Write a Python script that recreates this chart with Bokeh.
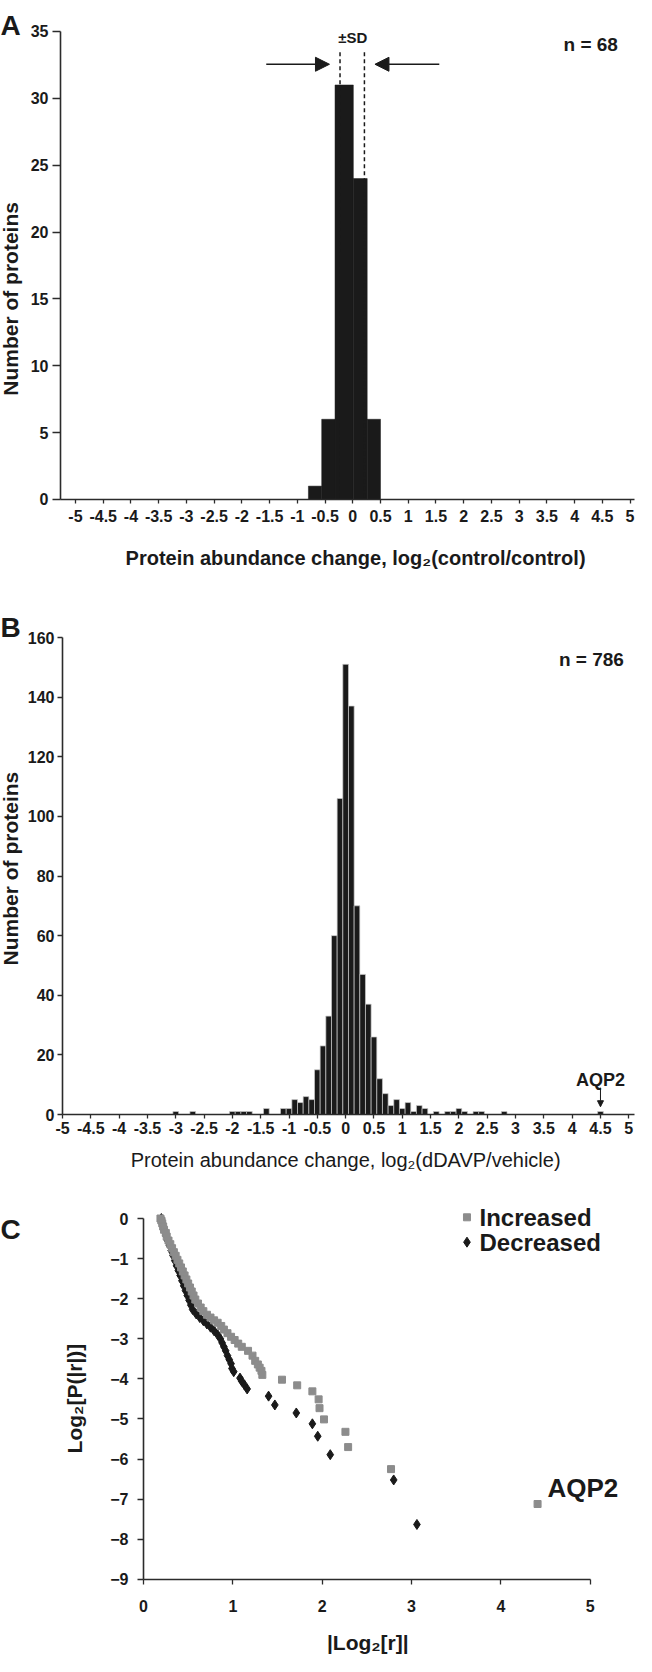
from bokeh.plotting import figure
from bokeh.models import FixedTicker, Label, Arrow, NormalHead, Range1d
from bokeh.layouts import column
from bokeh.embed import file_html
from bokeh.resources import INLINE

FONT = "Liberation Sans"
INK = "#1a1a1a"
W = 636

# ---------------- data ----------------
hist_ticks = [-5, -4.5, -4, -3.5, -3, -2.5, -2, -1.5, -1, -0.5, 0,
              0.5, 1, 1.5, 2, 2.5, 3, 3.5, 4, 4.5, 5]
hist_tick_labels = ["-5", "-4.5", "-4", "-3.5", "-3", "-2.5", "-2", "-1.5", "-1", "-0.5", "0",
                    "0.5", "1", "1.5", "2", "2.5", "3", "3.5", "4", "4.5", "5"]

# Panel A: control/control histogram
a_bin_left = [-0.80, -0.56, -0.32, 0.01, 0.26]
a_bin_right = [-0.56, -0.32, 0.01, 0.26, 0.50]
a_counts = [1, 6, 31, 24, 6]
a_sd = [-0.23, 0.21]
a_sd_top = 33.45
a_yticks = [0, 5, 10, 15, 20, 25, 30, 35]

# Panel B: dDAVP/vehicle histogram (bin centres, width 0.1)
b_centers = [-3.0, -2.7, -2.0, -1.9, -1.8, -1.7, -1.4, -1.1, -1.0,
             -0.9, -0.8, -0.7, -0.6, -0.5, -0.4, -0.3, -0.2, -0.1, 0.0,
             0.1, 0.2, 0.3, 0.4, 0.5, 0.6, 0.7, 0.8, 0.9, 1.0, 1.1, 1.2,
             1.3, 1.4, 1.6, 1.8, 1.9, 2.0, 2.1, 2.3, 2.4, 2.8, 4.5]
b_counts = [1, 1, 1, 1, 1, 1, 2, 2, 2,
            5, 4, 6, 5, 15, 23, 33, 60, 106, 151,
            137, 70, 47, 37, 26, 12, 7, 3, 5, 2, 4, 1,
            3, 2, 1, 1, 1, 2, 1, 1, 1, 1, 1]
b_yticks = [0, 20, 40, 60, 80, 100, 120, 140, 160]

# Panel C: cumulative distributions
inc_x = [0.19, 0.20, 0.21, 0.22, 0.23, 0.25, 0.26, 0.28, 0.30, 0.32, 0.34, 0.36, 0.38, 0.40,
         0.42, 0.44, 0.46, 0.48, 0.50, 0.52, 0.54, 0.56, 0.58, 0.61, 0.64, 0.67, 0.71, 0.75,
         0.79, 0.83, 0.87, 0.90, 0.94, 0.98, 1.02, 1.06, 1.10, 1.17, 1.22, 1.25, 1.28, 1.30,
         1.32, 1.33, 1.55, 1.72, 1.89, 1.96, 1.97, 2.02, 2.26, 2.29, 2.77, 4.41]
inc_y = [0.00, -0.05, -0.12, -0.20, -0.28, -0.36, -0.45, -0.55, -0.64, -0.74, -0.84, -0.93,
         -1.03, -1.12, -1.22, -1.32, -1.42, -1.52, -1.62, -1.72, -1.82, -1.92, -2.02, -2.12,
         -2.22, -2.31, -2.40, -2.47, -2.54, -2.60, -2.68, -2.77, -2.86, -2.95, -3.03, -3.12,
         -3.20, -3.30, -3.42, -3.55, -3.64, -3.72, -3.80, -3.90, -4.02, -4.16, -4.31, -4.51,
         -4.73, -5.01, -5.32, -5.70, -6.25, -7.12]
dec_x = [0.20, 0.21, 0.22, 0.23, 0.25, 0.27, 0.29, 0.31, 0.33, 0.35, 0.37, 0.39, 0.41, 0.43,
         0.45, 0.47, 0.49, 0.51, 0.53, 0.55, 0.59, 0.63, 0.67, 0.71, 0.75, 0.79, 0.83, 0.86,
         0.88, 0.90, 0.92, 0.94, 0.96, 0.98, 0.99, 1.01, 1.08, 1.10, 1.13, 1.16, 1.40, 1.47,
         1.71, 1.89, 1.95, 2.09, 2.80, 3.06]
dec_y = [0.00, -0.10, -0.20, -0.30, -0.42, -0.55, -0.67, -0.80, -0.92, -1.05, -1.18, -1.30,
         -1.42, -1.55, -1.68, -1.80, -1.92, -2.04, -2.16, -2.27, -2.38, -2.47, -2.55, -2.63,
         -2.71, -2.80, -2.90, -3.00, -3.10, -3.20, -3.30, -3.42, -3.52, -3.62, -3.74, -3.82,
         -3.98, -4.06, -4.15, -4.25, -4.43, -4.65, -4.85, -5.12, -5.43, -5.89, -6.52, -7.63]
c_xticks = [0, 1, 2, 3, 4, 5]
c_yticks = [0, -1, -2, -3, -4, -5, -6, -7, -8, -9]


# ---------------- helpers ----------------
def make_fig(height, xr, yr):
    p = figure(width=W, height=height, x_range=Range1d(*xr), y_range=Range1d(*yr),
               output_backend="svg", toolbar_location=None,
               min_border_left=0, min_border_right=0, min_border_top=0, min_border_bottom=0)
    p.title.visible = False
    p.outline_line_color = None
    p.xgrid.visible = False
    p.ygrid.visible = False
    p.background_fill_color = "white"
    p.border_fill_color = "white"
    return p


def style_axes(p, size, x_at, y_at, xbounds, ybounds):
    p.xaxis.fixed_location = x_at
    p.yaxis.fixed_location = y_at
    p.xaxis.bounds = xbounds
    p.yaxis.bounds = ybounds
    for ax in p.axis:
        ax.axis_line_color = "#2b2b2b"
        ax.axis_line_width = 1.6
        ax.major_tick_line_color = "#2b2b2b"
        ax.major_tick_line_width = 1.3
        ax.minor_tick_line_color = None
        ax.major_tick_in = 0
        ax.major_label_text_font = FONT
        ax.major_label_text_font_style = "bold"
        ax.major_label_text_font_size = f"{size}px"
        ax.major_label_text_color = INK


def lab(p, x, y, text, size, bold=True, align="center", baseline="middle", angle=0.0):
    p.add_layout(Label(x=x, y=y, text=text, text_font=FONT, text_font_size=f"{size}px",
                       text_font_style="bold" if bold else "normal", text_color=INK,
                       text_align=align, text_baseline=baseline, angle=angle))


def hist_xaxis(p, standoff):
    p.xaxis.ticker = FixedTicker(ticks=hist_ticks)
    p.xaxis.major_label_overrides = {t: s for t, s in zip(hist_ticks, hist_tick_labels)}
    p.xaxis.major_tick_out = 4
    p.xaxis.major_label_standoff = standoff


# ---------------- Panel A ----------------
pa = make_fig(584, (-6.352, 5.116), (-6.357, 37.318))
style_axes(pa, 16, 0, -5.27, (-5.27, 5.08), (0, 35))
hist_xaxis(pa, 7)
pa.yaxis.ticker = FixedTicker(ticks=a_yticks)
pa.yaxis.major_tick_out = 8
pa.yaxis.major_label_standoff = 4
pa.quad(left=a_bin_left, right=a_bin_right, bottom=0, top=a_counts,
        fill_color=INK, line_color=INK, line_width=0.5)
pa.segment(x0=a_sd, y0=[a_sd_top] * len(a_sd), x1=a_sd, y1=[0] * len(a_sd),
           line_color=INK, line_width=1.5, line_dash="4 3")
for xs, xe in [(-1.56, -0.42), (1.56, 0.40)]:
    pa.add_layout(Arrow(end=NormalHead(size=14, fill_color=INK, line_color=INK),
                        x_start=xs, y_start=32.55, x_end=xe, y_end=32.55,
                        line_color=INK, line_width=1.6))
lab(pa, 0.0, 34.55, "±SD", 15)
lab(pa, 4.29, 34.06, "n = 68", 19)
lab(pa, -6.35, 35.45, "A", 28, align="left", baseline="alphabetic")
lab(pa, -6.18, 15.0, "Number of proteins", 21, angle=1.5708)
lab(pa, 0.05, -4.35, "Protein abundance change, log₂(control/control)", 20)

# ---------------- Panel B ----------------
pb = make_fig(600, (-6.095, 5.136), (-23.48, 177.78))
style_axes(pb, 16, 0, -5, (-5, 5.1), (0, 160))
hist_xaxis(pb, 3)
pb.yaxis.ticker = FixedTicker(ticks=b_yticks)
pb.yaxis.major_tick_out = 5
pb.yaxis.major_label_standoff = 3
pb.vbar(x=b_centers, width=0.1, top=b_counts, bottom=0,
        fill_color=INK, line_color="#c8c8c8", line_width=0.7)
pb.add_layout(Arrow(end=NormalHead(size=6, fill_color=INK, line_color=INK),
                    x_start=4.5, y_start=9.0, x_end=4.5, y_end=2.6,
                    line_color=INK, line_width=1.0))
lab(pb, 4.5, 11.6, "AQP2", 18)
lab(pb, 4.34, 152.7, "n = 786", 19)
lab(pb, -6.095, 163.35, "B", 28, align="left", baseline="alphabetic")
lab(pb, -5.92, 82.5, "Number of proteins", 21, angle=1.5708)
lab(pb, 0.0, -15.4, "Protein abundance change, log₂(dDAVP/vehicle)", 20, bold=False)

# ---------------- Panel C ----------------
pc = make_fig(472, (-1.600, 5.517), (-10.923, 0.848))
style_axes(pc, 16, -9, 0, (0, 5), (-9, 0))
pc.xaxis.ticker = FixedTicker(ticks=c_xticks)
pc.yaxis.ticker = FixedTicker(ticks=c_yticks)
pc.xaxis.major_tick_out = 5
pc.xaxis.major_label_standoff = 16
pc.yaxis.major_tick_out = 6
pc.yaxis.major_label_standoff = 9
pc.scatter(dec_x, dec_y, marker="diamond", size=10, fill_color=INK, line_color=INK)
pc.scatter(inc_x, inc_y, marker="square", size=7, fill_color="#8c8c8c", line_color="#8c8c8c")
# legend
pc.scatter([3.62], [0.03], marker="square", size=7, fill_color="#8c8c8c", line_color="#8c8c8c")
pc.scatter([3.62], [-0.59], marker="diamond", size=10, fill_color=INK, line_color=INK)
lab(pc, 3.76, 0.03, "Increased", 24, align="left")
lab(pc, 3.76, -0.59, "Decreased", 24, align="left")
lab(pc, 4.52, -6.73, "AQP2", 26, align="left")
lab(pc, -1.60, -0.274, "C", 28, align="left", baseline="alphabetic")
lab(pc, -0.77, -4.49, "Log₂[P(|r|)]", 21, angle=1.5708)
lab(pc, 2.51, -10.57, "|Log₂[r]|", 21)

layout = column(pa, pb, pc, spacing=0)
open("out.html", "w").write(file_html(layout, INLINE))
